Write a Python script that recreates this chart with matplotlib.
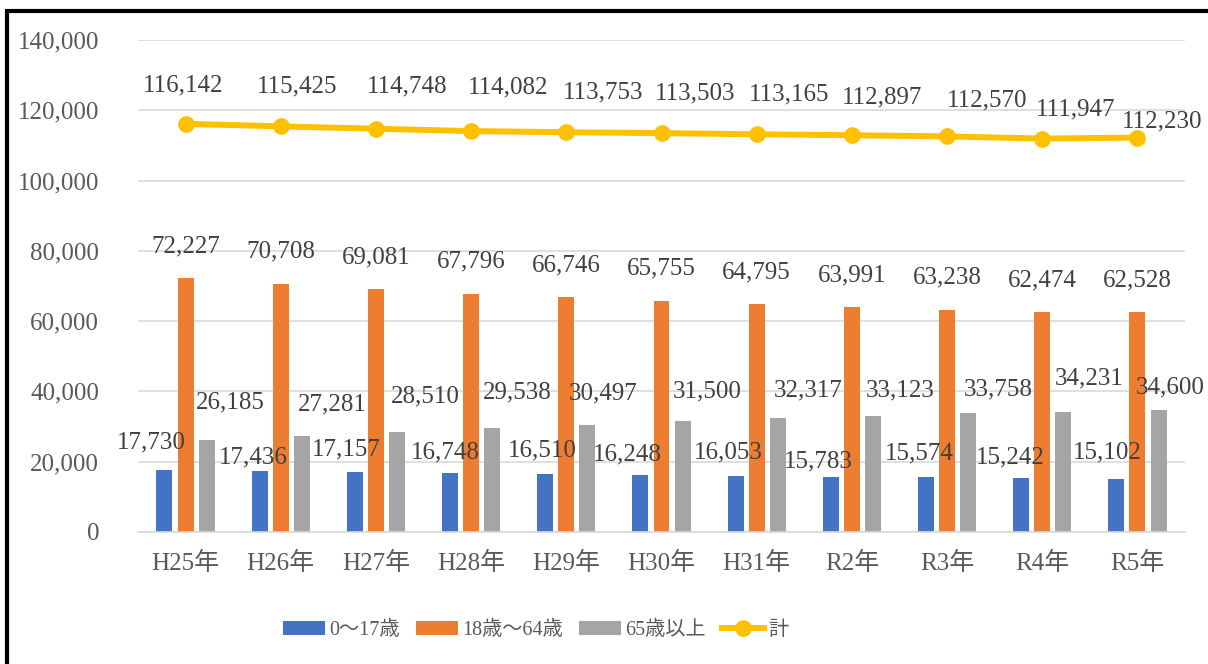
import matplotlib

matplotlib.use("Agg")
import matplotlib.pyplot as plt
from matplotlib.patches import Rectangle

plt.rcParams["font.family"] = ["Liberation Serif", "Noto Sans CJK JP"]

years = ["H25年", "H26年", "H27年", "H28年", "H29年", "H30年",
         "H31年", "R2年", "R3年", "R4年", "R5年"]
age_0_17 = [17730, 17436, 17157, 16748, 16510, 16248, 16053, 15783, 15574, 15242, 15102]
age_18_64 = [72227, 70708, 69081, 67796, 66746, 65755, 64795, 63991, 63238, 62474, 62528]
age_65_up = [26185, 27281, 28510, 29538, 30497, 31500, 32317, 33123, 33758, 34231, 34600]
total = [116142, 115425, 114748, 114082, 113753, 113503, 113165, 112897, 112570, 111947, 112230]
yticks = [0, 20000, 40000, 60000, 80000, 100000, 120000, 140000]

BLUE, ORANGE, GRAY, GOLD = "#4472C4", "#ED7D31", "#A5A5A5", "#FFC000"
TXT = "#595959"
LBL = "#404040"

W, H = 1208, 664
fig = plt.figure(figsize=(W / 100, H / 100), dpi=100)
ax = fig.add_axes([138 / W, (H - 532) / H, (1185 - 138) / W, (532 - 40) / H])

x = list(range(len(years)))
bw, off = 0.168, 0.222
b1 = ax.bar([i - off for i in x], age_0_17, bw, color=BLUE, label="0～17歳", zorder=2)
b2 = ax.bar(x, age_18_64, bw, color=ORANGE, label="18歳～64歳", zorder=2)
b3 = ax.bar([i + off for i in x], age_65_up, bw, color=GRAY, label="65歳以上", zorder=2)
(ln,) = ax.plot(x, total, "-o", color=GOLD, lw=4.3, ms=11, label="計", zorder=3)

ax.set_xlim(-0.5, len(years) - 0.5)
ax.set_ylim(0, 140000)
ax.set_yticks(yticks)
ax.set_yticklabels([f"{v:,}" for v in yticks])
ax.set_xticks(x)
ax.set_xticklabels(years)
ax.tick_params(length=0, labelsize=18, labelcolor=TXT)
ax.tick_params(axis="y", pad=28)
ax.tick_params(axis="x", pad=14)
ax.grid(axis="y", color="#D9D9D9", lw=1.2, zorder=0)
for s in ["top", "right", "left"]:
    ax.spines[s].set_visible(False)
ax.spines["bottom"].set_color("#D9D9D9")
ax.spines["bottom"].set_linewidth(1.2)


def label(xs, ys, dx, dy):
    # data labels, nudged by hand like in the original sheet (pixels)
    for xv, yv, ox, oy in zip(xs, ys, dx, dy):
        ax.annotate(f"{yv:,}", (xv, yv), xytext=(ox, oy),
                    textcoords="offset pixels", ha="center", va="center",
                    fontsize=18, color=LBL, zorder=4)


label([i - off for i in x], age_0_17,
      [-13, -6, -9, -5, -3, -13, -7, -12, -7, -11, -9],
      [27, 13, 22, 21, 24, 20, 23, 15, 24, 21, 26])
label(x, age_18_64, [0] * len(x), [32] * len(x))
label([i + off for i in x], age_65_up,
      [24, 30, 28, 25, 16, 25, 30, 27, 30, 26, 12],
      [38, 32, 35, 36, 31, 30, 28, 25, 24, 33, 23])
label(x, total,
      [-2, 16, 31, 37, 37, 34, 32, 30, 40, 33, 25],
      [38, 40, 42, 44, 40, 40, 40, 38, 36, 29, 16])

fig.legend(handles=[b1, b2, b3, ln], loc="center left",
           bbox_to_anchor=(283 / W, 1 - 630 / H), bbox_transform=fig.transFigure,
           ncol=4, frameon=False, fontsize=14.5, handlelength=2.1, handletextpad=0.2,
           columnspacing=0.8, borderpad=0, borderaxespad=0, labelcolor=TXT)

fig.patches.append(Rectangle((7 / W, -0.1), 1.2, 1 - 11 / H + 0.1, transform=fig.transFigure,
                             fill=False, edgecolor="black", lw=3))

fig.savefig("out.png", dpi=100)
